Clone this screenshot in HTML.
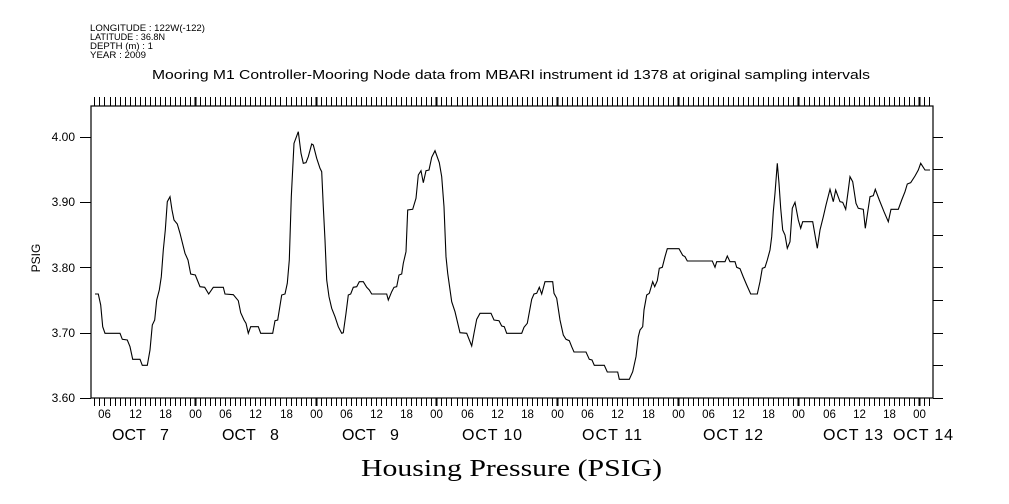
<!DOCTYPE html>
<html><head><meta charset="utf-8"><style>
body{margin:0;background:#fff;}
svg{display:block;}
text{font-family:"Liberation Sans",sans-serif;fill:#000;}
</style></head><body>
<svg width="1009" height="504" viewBox="0 0 1009 504" xmlns="http://www.w3.org/2000/svg">
<g font-size="9">
<text x="90" y="31" textLength="115" lengthAdjust="spacingAndGlyphs">LONGITUDE : 122W(-122)</text>
<text x="90" y="40" textLength="75" lengthAdjust="spacingAndGlyphs">LATITUDE : 36.8N</text>
<text x="90" y="49" textLength="63" lengthAdjust="spacingAndGlyphs">DEPTH (m) : 1</text>
<text x="90" y="58" textLength="56" lengthAdjust="spacingAndGlyphs">YEAR : 2009</text>
</g>
<text x="152" y="79" font-size="13" textLength="718" lengthAdjust="spacingAndGlyphs">Mooring M1 Controller-Mooring Node data from MBARI instrument id 1378 at original sampling intervals</text>
<rect x="91" y="106" width="842" height="292" fill="none" stroke="#000" stroke-width="1.2"/>
<g id="ticks" stroke="#000" stroke-width="1"></g>
<g font-size="12" text-anchor="end">
<text x="75" y="141">4.00</text>
<text x="75" y="206">3.90</text>
<text x="75" y="272">3.80</text>
<text x="75" y="337">3.70</text>
<text x="75" y="402">3.60</text>
</g>
<g id="xl" font-size="11.5" text-anchor="middle"></g>
<g font-size="16">
<text x="112" y="440">OCT</text><text x="160" y="440">7</text>
<text x="222" y="440">OCT</text><text x="270" y="440">8</text>
<text x="342" y="440">OCT</text><text x="390" y="440">9</text>
<text x="462" y="440" textLength="60" lengthAdjust="spacing">OCT 10</text>
<text x="582" y="440" textLength="60" lengthAdjust="spacing">OCT 11</text>
<text x="703" y="440" textLength="60" lengthAdjust="spacing">OCT 12</text>
<text x="823" y="440" textLength="60" lengthAdjust="spacing">OCT 13</text>
<text x="893" y="440" textLength="60" lengthAdjust="spacing">OCT 14</text>
</g>
<text x="40" y="258" font-size="12" text-anchor="middle" transform="rotate(-90 40 258)">PSIG</text>
<text x="361" y="476" font-size="24" textLength="301" lengthAdjust="spacingAndGlyphs" style="font-family:'Liberation Serif',serif">Housing Pressure (PSIG)</text>
<polyline fill="none" stroke="#000" stroke-width="1.1" points="95,294 98.3,294 100.7,305 102.7,326.7 105,333.3 120,333.3 122.3,339.3 127.3,340 130,346.7 132.7,359.3 140,359.3 142.3,365.3 147.3,365.3 150,350 152.3,325 154.7,320 156.7,300 159.3,290 161.3,276.7 163.3,250 165.3,230 167.3,201.7 170,196.7 172,210 174,220 177.3,224 180,233.3 185,253.3 188,260 190.7,274 195.3,275 200,286.7 204.7,287.3 208.7,294 213.3,287.3 223.3,287.3 225,294 233.3,294.7 238.3,300.7 240.7,312.7 244,320 246,323.3 248.3,333.3 250.7,326.7 258.3,326.7 260.7,333.3 272.7,333.3 275,320.7 277.7,320 281.7,295 285,294 287.3,283.3 289.3,260 291.3,196.7 294,143.3 298.3,131.7 301,153.3 303.3,163.3 306,162.7 308.3,156.7 311.7,144 313.3,145 316.7,158.3 320,168.3 321.7,171.7 323.3,206.7 325,240 326.7,280 329,296.7 331.7,308.3 335,316.7 338.3,326.7 341.7,333.3 343.3,332.7 346,313.3 348.3,295 350.7,294 353.3,287.3 356.7,286.7 359.3,281.7 363.3,281.7 366.7,287.3 369.3,290 371.7,294 386.7,294 388.3,300 391.7,291.7 394,287.3 396.7,286.7 399,275 401.7,274 403.3,263.3 406,251.7 407.7,210 412.7,209.3 416,198.3 418.3,175 421,170.7 423.3,182.7 426,170.7 429,170 431.7,157.3 435,150.7 439.3,162.7 441.7,176.7 444,206.7 446,256.7 447.7,273.3 451.7,301.7 455,311.7 460,332.7 466.7,333.3 471.7,346 474,333.3 476.7,319.3 480,313.3 491,313.3 494,320 499,320.7 501.7,326 504.3,326.7 506.7,333.3 521.7,333.3 524,327.3 527.3,323.3 531.7,299.3 534,294 536.7,293.3 539.3,287.3 541.7,294 545,281.7 552.7,281.7 554,293.3 556.7,298.3 560,320 563.3,335 566,339.3 569.3,340.7 571.7,346.7 574,352 586,352 589.3,359.3 592,360 594.3,365.3 604.3,365.3 607.3,372 617.7,372 619.3,379.3 629.3,379.3 632.7,371.7 636,356.7 638.3,336.7 640,330 642.7,326.7 644,310 646.7,295 649.3,293.3 652.7,281.7 654.7,286.7 657.3,280.7 659.3,268.3 662.3,267.3 665,256.7 667.3,248.7 679,248.7 682.7,255.3 685,256.7 687.3,261 712.3,261 715,267.3 716.7,261.7 725,261.7 727.3,256 730,261.7 735,261.7 736.7,267.3 740,268.7 743.3,277 746.7,285 750.7,294 757.3,294 760,281.7 762.3,268.3 765,267.3 767.3,260 770,250 771.7,236.7 773.3,211.7 775,193.3 777.3,163.3 779,183.3 780.7,208.3 782.7,230 785,235 787.3,248.3 790,241.7 792.3,208.3 795,202.3 798.3,220 800.7,228.3 802.7,221.7 812.7,221.7 815,235 817.3,248.3 820,230 823.3,216.7 826,205 830,189.3 833.3,201.7 835.7,190 840,201.7 842.7,202.3 845.7,209.3 848.3,190 850,176.7 852.7,181.7 856,203.3 858.3,208.3 863.3,209.3 865.3,228.3 870,196.7 873.3,195.7 875.3,189.3 879.3,200 884,211.7 888.3,221.7 891,209.3 898.3,209.3 901.7,200 905,191.7 907.3,184 910.7,182.7 915,176 918.3,170 920.7,163.3 925,170 930,170"/>
</svg>
<script>
(function(){
var ns="http://www.w3.org/2000/svg",g=document.getElementById("ticks"),xl=document.getElementById("xl");
function L(x1,y1,x2,y2,w){var l=document.createElementNS(ns,"line");l.setAttribute("x1",x1);l.setAttribute("y1",y1);l.setAttribute("x2",x2);l.setAttribute("y2",y2);if(w)l.setAttribute("stroke-width",w);g.appendChild(l);}
for(var h=-20;h<=146;h++){var x=195+h*5.029;x=Math.round(x)+0.5;var d=((h%24)+24)%24==0;
L(x,106,x,97,d?2:1);L(x,398,x,406,d?2:1);
if(((h%6)+6)%6==0){var t=document.createElementNS(ns,"text");t.setAttribute("x",x);t.setAttribute("y",418);var hh=((h%24)+24)%24;t.textContent=(hh<10?"0":"")+hh;xl.appendChild(t);}}
for(var i=0;i<=8;i++){var y=398-i*32.65;y=Math.round(y)+0.5;L(933,y,943,y);if(i%2==0)L(80,y,91,y);}
})();
</script>
</body></html>
